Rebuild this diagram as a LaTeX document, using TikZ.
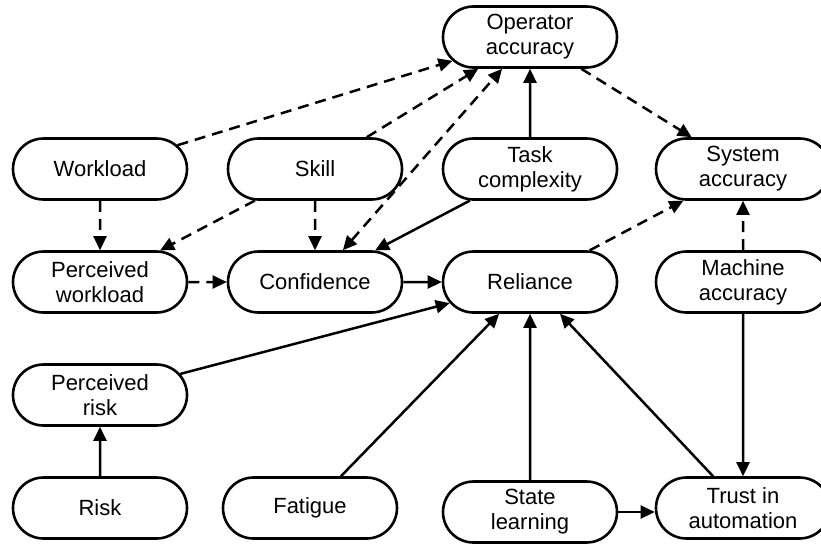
\documentclass[tikz,border=0pt]{standalone}
\usepackage{fontspec}
\setmainfont{Liberation Sans}
\usetikzlibrary{shapes.misc,arrows.meta}
\begin{document}
\begin{tikzpicture}[x=1pt,y=-1pt,
  box/.style={draw, rounded rectangle, line width=2.6pt, minimum width=174pt, minimum height=61pt,
    inner sep=0pt, align=center, font=\fontsize{22}{25}\selectfont},
  arr/.style={line width=2.5pt, -{Triangle[length=14pt,width=13pt]}},
  darr/.style={arr, dash pattern=on 11pt off 7pt},
  ddarr/.style={darr, {Triangle[length=14pt,width=13pt]}-{Triangle[length=14pt,width=13pt]}}]
\useasboundingbox (0,0) rectangle (821,544);
\node[box] (op) at (530,37) {Operator\\accuracy};
\node[box] (wl) at (100,169) {Workload};
\node[box] (sk) at (315,169) {Skill};
\node[box] (tc) at (530,169) {Task\\complexity};
\node[box] (sa) at (743,169) {System\\accuracy};
\node[box] (pw) at (100,282) {Perceived\\workload};
\node[box] (cf) at (315,282) {Confidence};
\node[box] (rl) at (530,282) {Reliance};
\node[box] (ma) at (743,282) {Machine\\accuracy};
\node[box] (pr) at (100,395) {Perceived\\risk};
\node[box] (rk) at (100,508) {Risk};
\node[box] (ft) at (310,508) {Fatigue};
\node[box] (sl) at (530,512) {State\\learning};
\node[box] (ta) at (743,508) {Trust in\\automation};
% dashed
\draw[darr] (wl) -- (op);
\draw[darr] (sk) -- (op);
\draw[ddarr] (cf) -- (op);
\draw[darr] (op) -- (sa);
\draw[darr] (wl) -- (pw);
\draw[darr] (sk) -- (pw);
\draw[darr] (sk) -- (cf);
\draw[darr] (pw) -- (cf);
\draw[darr] (rl) -- (sa);
\draw[darr] (ma) -- (sa);
% solid
\draw[arr] (tc) -- (op);
\draw[arr] (tc) -- (cf);
\draw[arr] (cf) -- (rl);
\draw[arr] (pr) -- (rl);
\draw[arr] (ft) -- (rl);
\draw[arr] (sl) -- (rl);
\draw[arr] (ta) -- (rl);
\draw[arr] (ma) -- (ta);
\draw[arr] (rk) -- (pr);
\draw[arr] (sl.east) -- (sl.east -| ta.west);
\end{tikzpicture}
\end{document}
